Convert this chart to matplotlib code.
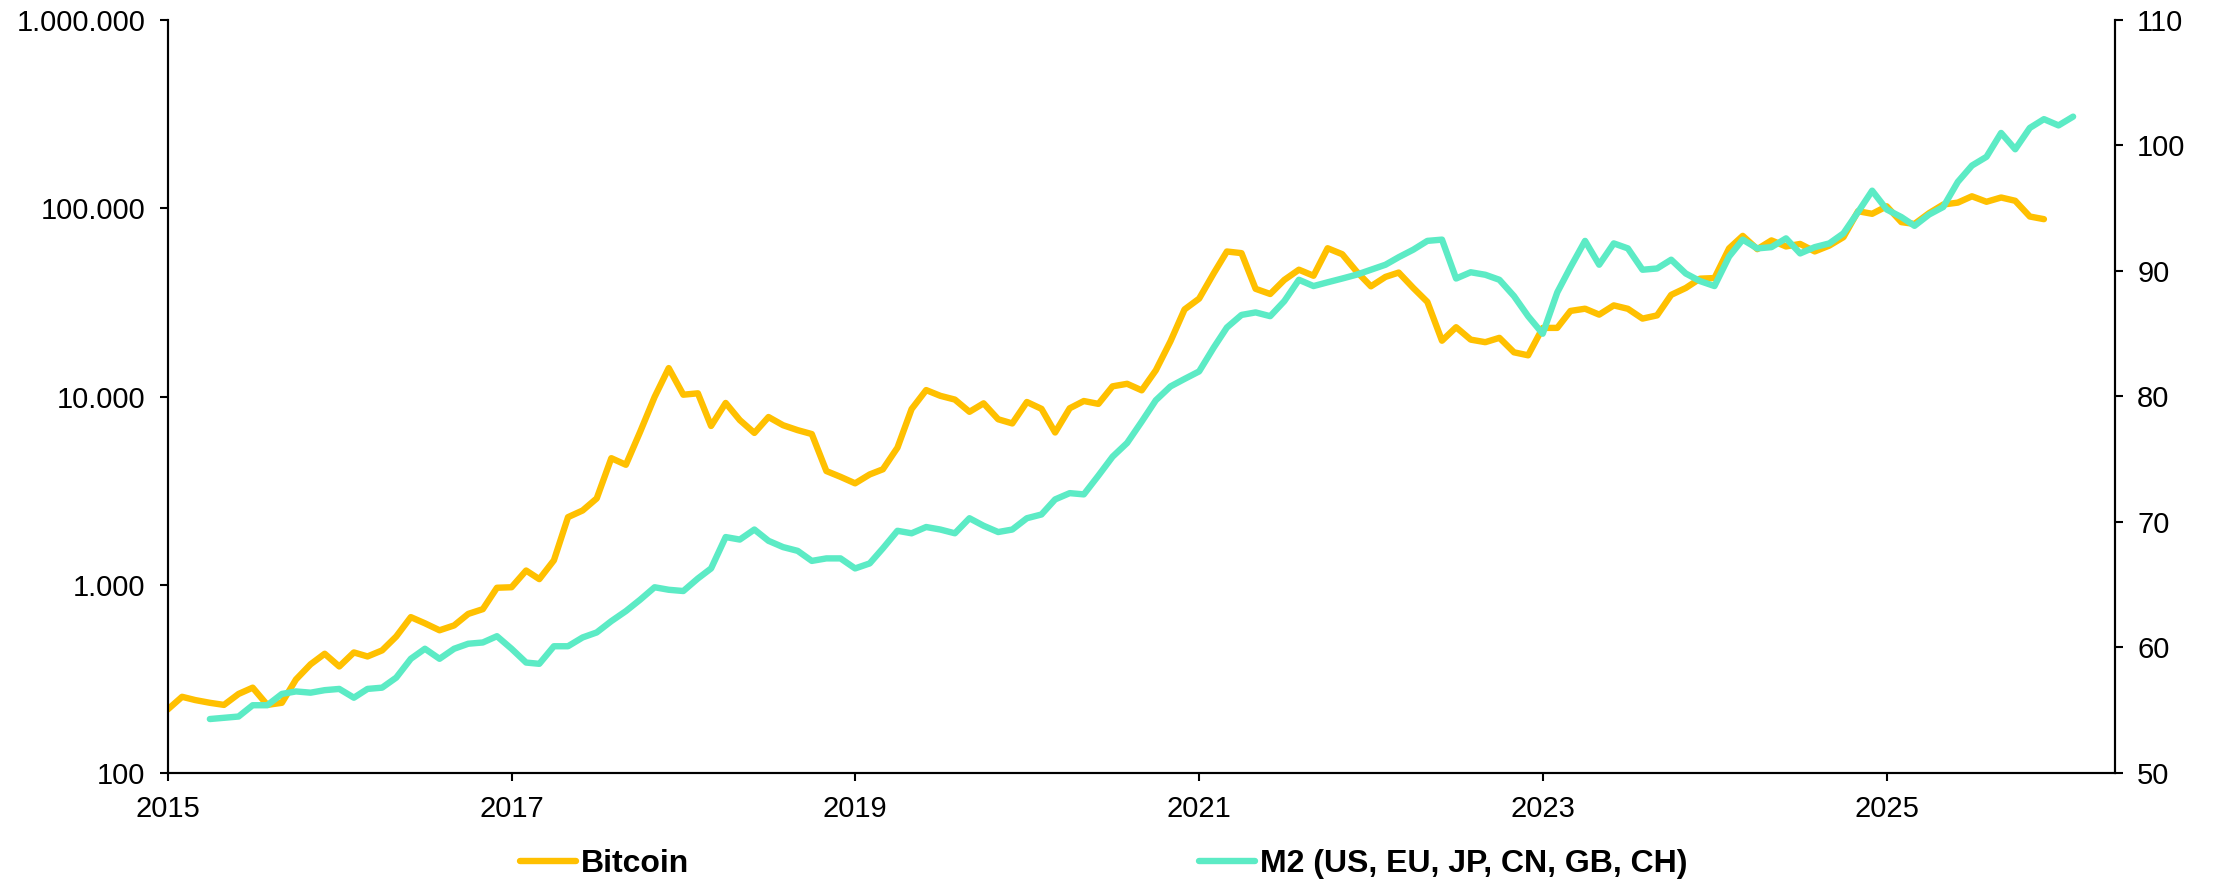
import matplotlib
matplotlib.use("Agg")
import matplotlib.pyplot as plt
from matplotlib.ticker import FixedLocator, FuncFormatter, NullLocator
import pandas as pd

plt.rcParams['font.family'] = ['Liberation Sans', 'DejaVu Sans']

# ---------------- data ----------------
btc_start = "2015-01-01"
btc_values = [
    # 2015
    217, 254, 244, 236, 230, 263, 284, 230, 236, 314, 378, 430,
    # 2016
    368, 437, 416, 448, 531, 673, 624, 573, 608, 700, 742, 964,
    # 2017
    970, 1190, 1071, 1348, 2286, 2480, 2875, 4703, 4338, 6468, 9946, 14157,
    # 2018
    10221, 10397, 6973, 9240, 7494, 6404, 7780, 7037, 6625, 6317, 4017, 3743,
    # 2019
    3457, 3854, 4105, 5350, 8574, 10817, 10085, 9630, 8293, 9199, 7569, 7193,
    # 2020
    9350, 8599, 6438, 8658, 9461, 9137, 11323, 11680, 10784, 13781, 19625, 29002,
    # 2021
    33114, 45137, 58918, 57750, 37332, 35041, 41626, 47166, 43791, 61318, 57005, 46306,
    # 2022
    38483, 43193, 45538, 37714, 31792, 19785, 23336, 20050, 19432, 20495, 17168, 16548,
    # 2023
    23139, 23147, 28478, 29268, 27219, 30477, 29230, 25931, 26968, 34668, 37713, 42265,
    # 2024
    42582, 61198, 71333, 60636, 67491, 62678, 64620, 58970, 63330, 70215, 96449, 93430,
    # 2025
    102405, 84374, 82548, 94207, 104638, 107135, 115758, 108236, 114056, 109556, 90394, 87500,
]

m2_start = "2015-04-01"
m2_values = [
    # 2015 (Apr-Dec)
    54.3, 54.4, 54.5, 55.4, 55.4, 56.3, 56.5, 56.4, 56.6,
    # 2016
    56.7, 56.0, 56.7, 56.8, 57.6, 59.1, 59.9, 59.1, 59.9, 60.3, 60.4, 60.9,
    # 2017
    59.9, 58.8, 58.7, 60.1, 60.1, 60.8, 61.2, 62.1, 62.9, 63.8, 64.8, 64.6,
    # 2018
    64.5, 65.5, 66.3, 68.8, 68.6, 69.4, 68.5, 68.0, 67.7, 66.9, 67.1, 67.1,
    # 2019
    66.3, 66.7, 67.9, 69.3, 69.1, 69.6, 69.4, 69.1, 70.3, 69.7, 69.2, 69.4,
    # 2020
    70.3, 70.6, 71.8, 72.3, 72.2, 73.7, 75.2, 76.3, 78.0, 79.7, 80.8, 81.4,
    # 2021
    82.0, 83.9, 85.5, 86.5, 86.7, 86.4, 87.6, 89.3, 88.8, 89.1, 89.4, 89.7,
    # 2022
    90.1, 90.5, 91.1, 91.7, 92.4, 92.5, 89.4, 89.9, 89.7, 89.3, 88.0, 86.4,
    # 2023
    85.0, 88.3, 90.3, 92.4, 90.5, 92.2, 91.8, 90.1, 90.2, 90.9, 89.8, 89.2,
    # 2024
    88.8, 91.15, 92.5, 91.8, 91.9, 92.6, 91.4, 91.9, 92.2, 93.0, 94.7, 96.4,
    # 2025
    94.9, 94.3, 93.6, 94.5, 95.1, 97.1, 98.4, 99.1, 101.0, 99.7, 101.4, 102.1,
    # 2026
    101.6, 102.3,
]

x_tick_labels = ["2015", "2017", "2019", "2021", "2023", "2025"]
left_ticks = [100, 1000, 10000, 100000, 1000000]
right_ticks = [50, 60, 70, 80, 90, 100, 110]
series_labels = ["Bitcoin", "M2 (US, EU, JP, CN, GB, CH)"]

btc_dates = pd.date_range(btc_start, periods=len(btc_values), freq="MS")
m2_dates = pd.date_range(m2_start, periods=len(m2_values), freq="MS")

# ---------------- figure ----------------
W, H = 2221, 884
fig = plt.figure(figsize=(W / 100, H / 100), dpi=100)
ax = fig.add_axes([167.5 / W, 1 - 773 / H, (2115 - 167.5) / W, (773 - 20) / H])

BTC_COLOR = "#FFC000"
M2_COLOR = "#5CEBC5"
LW = 4.6
FS = 21

l1, = ax.plot(btc_dates, btc_values, color=BTC_COLOR, lw=LW, solid_joinstyle="round",
              solid_capstyle="round")
ax.set_yscale("log")
ax.set_ylim(100, 1_000_000)
ax.yaxis.set_major_locator(FixedLocator(left_ticks))
ax.yaxis.set_minor_locator(NullLocator())
ax.yaxis.set_major_formatter(FuncFormatter(lambda v, p: f"{int(round(v)):,}".replace(",", ".")))

ax.set_xlim(pd.Timestamp("2015-01-01"), pd.Timestamp("2026-05-01"))
ax.set_xticks(pd.to_datetime([f"{y}-01-01" for y in x_tick_labels]))
ax.set_xticklabels(x_tick_labels)
ax.xaxis.set_minor_locator(NullLocator())

ax2 = ax.twinx()
l2, = ax2.plot(m2_dates, m2_values, color=M2_COLOR, lw=LW, solid_joinstyle="round",
               solid_capstyle="round")
ax2.set_ylim(50, 110)
ax2.yaxis.set_major_locator(FixedLocator(right_ticks))
ax2.yaxis.set_minor_locator(NullLocator())

for a in (ax, ax2):
    a.spines["top"].set_visible(False)
    for s in a.spines.values():
        s.set_linewidth(1.5)
        s.set_color("black")
    a.tick_params(axis="both", which="major", direction="out", length=6, width=1.5,
                  labelsize=FS, pad=10, colors="black")
ax.set_facecolor("none")

legend_props = {"weight": "bold", "size": 23}
leg_y = 1 - 864 / H
fig.legend(handles=[l1], labels=[series_labels[0]], loc="center left",
           bbox_to_anchor=(520 / W, leg_y), frameon=False, prop=legend_props,
           handlelength=1.75, handletextpad=0.15, borderpad=0, borderaxespad=0)
fig.legend(handles=[l2], labels=[series_labels[1]], loc="center left",
           bbox_to_anchor=(1199 / W, leg_y), frameon=False, prop=legend_props,
           handlelength=1.75, handletextpad=0.15, borderpad=0, borderaxespad=0)

fig.savefig("out.png", dpi=100, facecolor="white")
